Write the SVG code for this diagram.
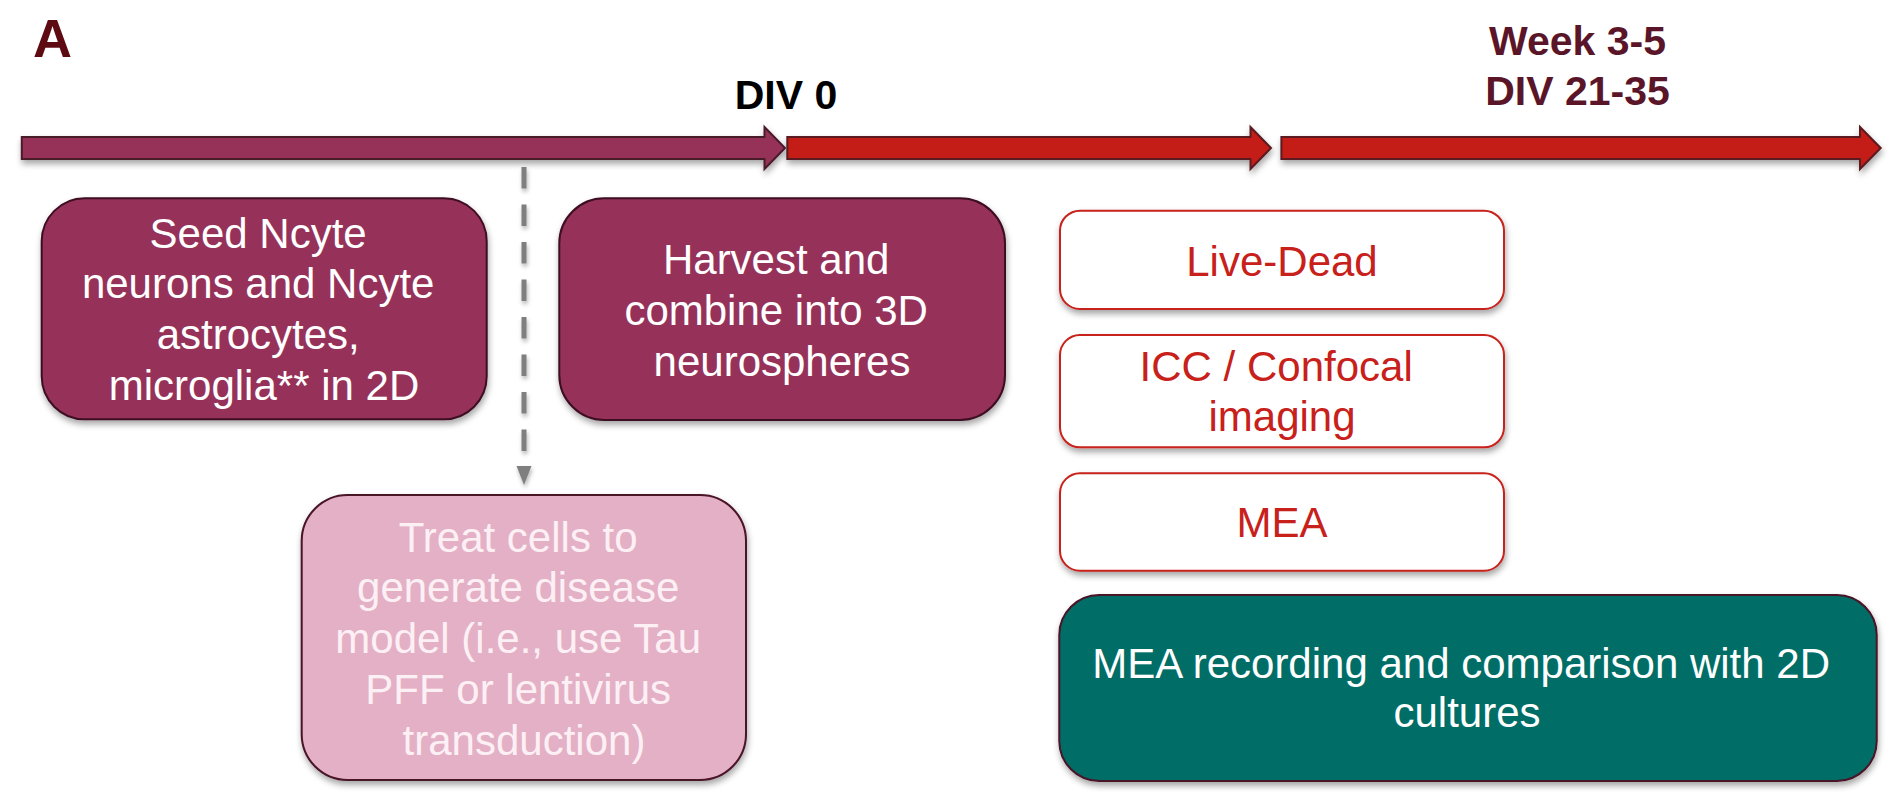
<svg xmlns="http://www.w3.org/2000/svg" width="1904" height="811" viewBox="0 0 1904 811">
  <defs>
    <filter id="shadow" x="-10%" y="-20%" width="120%" height="160%">
      <feDropShadow dx="1" dy="4" stdDeviation="3" flood-color="#000" flood-opacity="0.35"/>
    </filter>
    <filter id="lineShadow" filterUnits="userSpaceOnUse" x="500" y="150" width="50" height="340">
      <feDropShadow dx="1" dy="3" stdDeviation="2" flood-color="#000" flood-opacity="0.3"/>
    </filter>
    <style>
      .t { font-family: "Liberation Sans", Arial, sans-serif; }
      .hdr { font-family: "Liberation Sans", Arial, sans-serif; font-weight: bold; }
      .arrowM { fill: #963259; stroke: #4a1a2c; stroke-width: 2; }
      .arrowR { fill: #c41d12; stroke: #5a1a22; stroke-width: 2; }
      .boxM { fill: #96315a; stroke: #3e0f22; stroke-width: 2; }
      .boxP { fill: #e4b0c6; stroke: #4a1228; stroke-width: 2; }
      .boxO { fill: #ffffff; stroke: #c8201a; stroke-width: 2; }
      .boxT { fill: #006e66; stroke: #4a1228; stroke-width: 2; }
      .wt { fill: #ffffff; font-size: 42px; text-anchor: middle; }
      .pt { fill: #fcf0f5; font-size: 42px; text-anchor: middle; }
      .rt { fill: #c8201a; font-size: 42px; text-anchor: middle; }
    </style>
  </defs>

  <text class="hdr" x="33" y="57" font-size="54" fill="#5e0a12">A</text>
  <text class="hdr" x="786" y="109.3" font-size="41" fill="#000000" text-anchor="middle">DIV 0</text>
  <text class="hdr" x="1577.5" y="55" font-size="41" fill="#5a1628" text-anchor="middle">Week 3-5</text>
  <text class="hdr" x="1577.5" y="105" font-size="41" fill="#5a1628" text-anchor="middle">DIV 21-35</text>

  <g id="timeline" filter="url(#shadow)">
    <path class="arrowM" d="M21.8,137 H764.5 V127 L785,148 L764.5,169 V159 H21.8 Z"/>
    <path class="arrowR" d="M787.3,137 H1250.5 V127 L1271,148 L1250.5,169 V159 H787.3 Z"/>
    <path class="arrowR" d="M1281.4,137 H1860 V127 L1880.7,148 L1860,169 V159 H1281.4 Z"/>
  </g>

  <g id="connectors" filter="url(#lineShadow)">
    <line x1="524" y1="167" x2="524" y2="466" stroke="#7f7f7f" stroke-width="5" stroke-dasharray="21.5 16"/>
    <polygon points="516.5,466 531.5,466 524,485" fill="#7f7f7f"/>
  </g>

  <g id="seed">
    <rect class="boxM" x="41.7" y="198.3" width="445" height="221" rx="43" ry="43" filter="url(#shadow)"/>
    <text class="t wt">
      <tspan x="264" y="247.5">Seed Ncyte</tspan>
      <tspan x="264" y="298.3">neurons and Ncyte</tspan>
      <tspan x="264" y="349.1">astrocytes,</tspan>
      <tspan x="264" y="399.9">microglia** in 2D</tspan>
    </text>
  </g>

  <g id="harvest">
    <rect class="boxM" x="559.3" y="198.3" width="445.7" height="221.7" rx="45" ry="45" filter="url(#shadow)"/>
    <text class="t wt">
      <tspan x="782" y="274">Harvest and</tspan>
      <tspan x="782" y="324.8">combine into 3D</tspan>
      <tspan x="782" y="375.6">neurospheres</tspan>
    </text>
  </g>

  <g id="treat">
    <rect class="boxP" x="301.7" y="495" width="444.3" height="285" rx="46" ry="46" filter="url(#shadow)"/>
    <text class="t pt">
      <tspan x="524" y="551.5">Treat cells to</tspan>
      <tspan x="524" y="602.3">generate disease</tspan>
      <tspan x="524" y="653.1">model (i.e., use Tau</tspan>
      <tspan x="524" y="703.9">PFF or lentivirus</tspan>
      <tspan x="524" y="754.7">transduction)</tspan>
    </text>
  </g>

  <g id="livedead">
    <rect class="boxO" x="1060" y="210.7" width="444" height="98.3" rx="20" ry="20" filter="url(#shadow)"/>
    <text class="t rt" x="1282" y="276">Live-Dead</text>
  </g>

  <g id="icc">
    <rect class="boxO" x="1060" y="335" width="444" height="112.3" rx="20" ry="20" filter="url(#shadow)"/>
    <text class="t rt">
      <tspan x="1282" y="380.7">ICC / Confocal</tspan>
      <tspan x="1282" y="430.7">imaging</tspan>
    </text>
  </g>

  <g id="mea">
    <rect class="boxO" x="1060" y="473.3" width="444" height="97.4" rx="20" ry="20" filter="url(#shadow)"/>
    <text class="t rt" x="1282" y="537.3">MEA</text>
  </g>

  <g id="mearec">
    <rect class="boxT" x="1059.3" y="595" width="817.4" height="186" rx="40" ry="40" filter="url(#shadow)"/>
    <text class="t wt">
      <tspan x="1467" y="678.3">MEA recording and comparison with 2D</tspan>
      <tspan x="1467" y="726.7">cultures</tspan>
    </text>
  </g>
</svg>
